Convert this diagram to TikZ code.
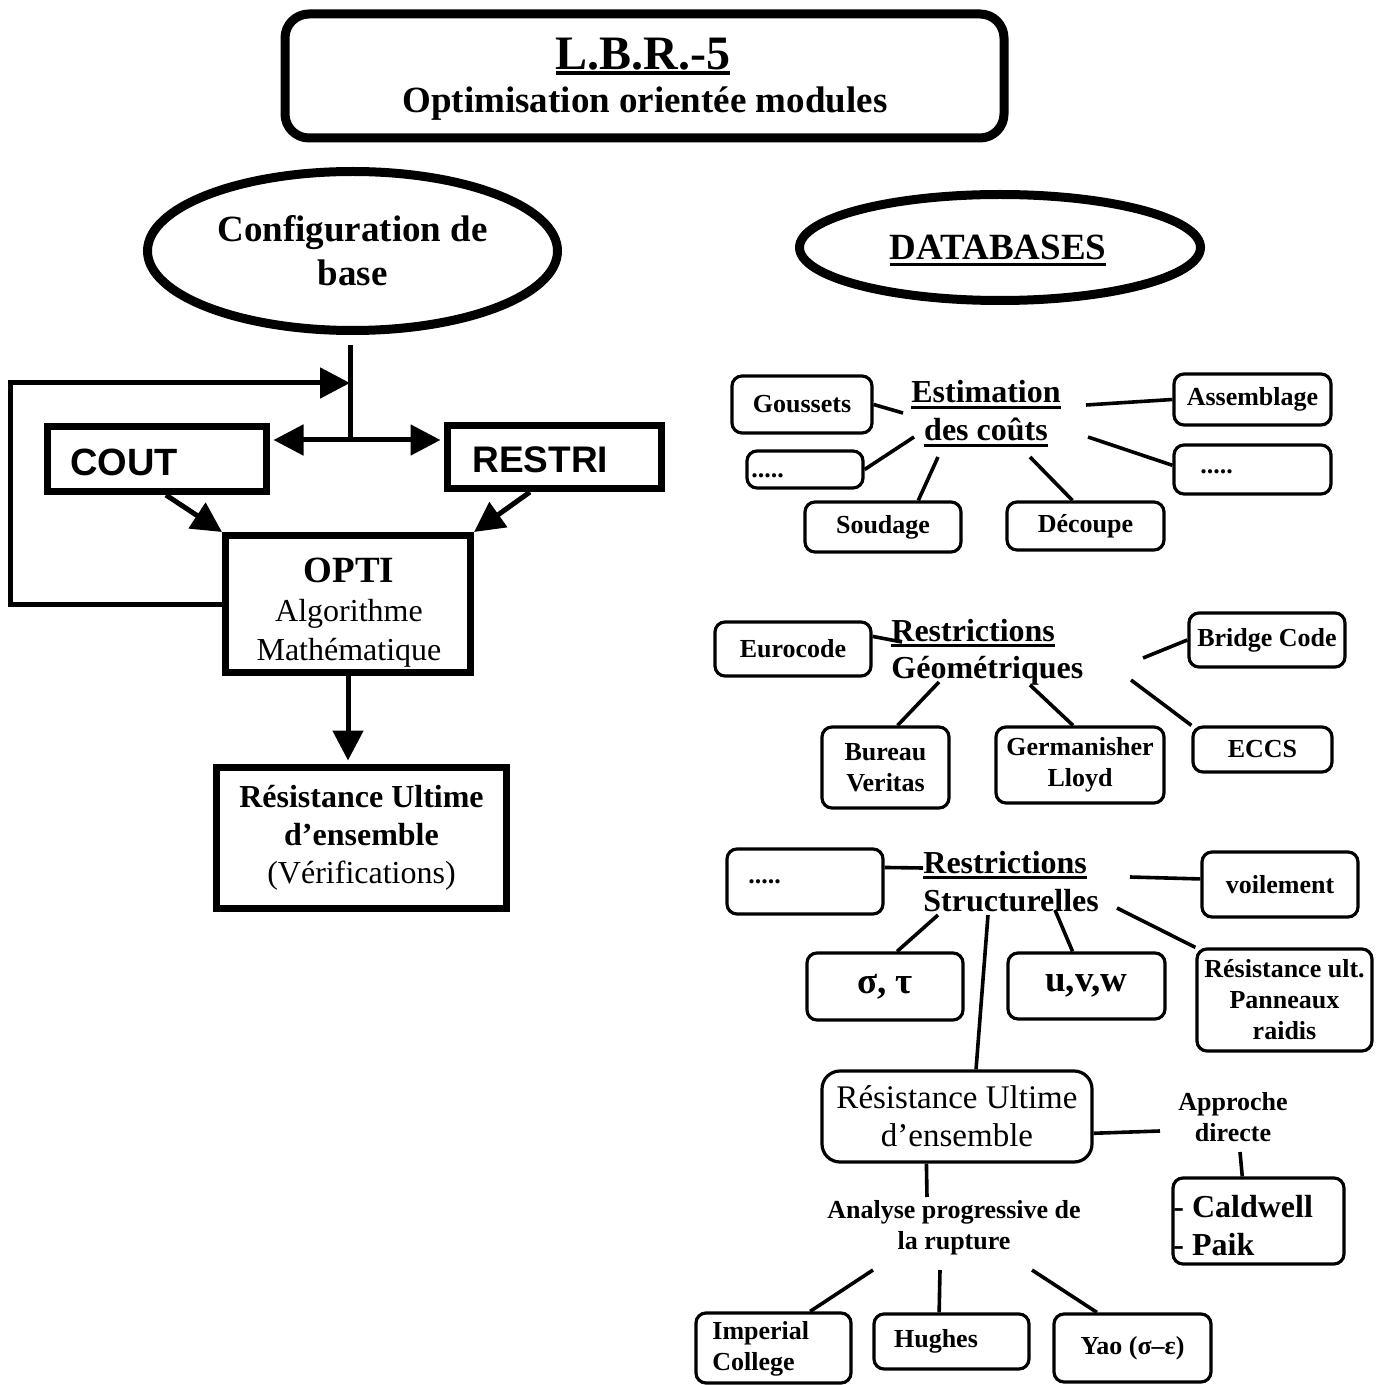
\documentclass[tikz,border=0pt]{standalone}
\usepackage{fontspec}
\setmainfont{Liberation Serif}
\setsansfont{Liberation Sans}
\usetikzlibrary{arrows.meta,shapes.geometric}
\newcommand\fsz[2]{\fontsize{#1}{#2}\selectfont}
\newcommand\ulx[3]{\leavevmode\setbox0=\hbox{#3}\rlap{\rule[-#1]{\wd0}{#2}}\box0}
\begin{document}
\begin{tikzpicture}[x=0.5pt,y=-0.5pt,
  every node/.style={inner sep=0pt},
  sqbox/.style={draw, line width=3.5pt, align=center},
  rbox/.style={draw, line width=1.6pt, rounded corners=5pt, align=center, font=\fsz{13}{15.5}\bfseries},
  oval/.style={draw, ellipse, line width=4.5pt, align=center, font=\fsz{18.5}{22}\bfseries},
  head/.style={font=\fsz{16}{19}\bfseries},
  small/.style={font=\fsz{13}{15.5}\bfseries},
  link/.style={line width=1.8pt},
  wire/.style={line width=2.5pt},
  flow/.style={line width=2.5pt, -{Triangle[length=15pt,width=15pt]}},
]
\useasboundingbox (0,0) rectangle (1387,1385);

% ---- title
\node[draw, line width=4.5pt, rounded corners=12pt, minimum width=359.5pt, minimum height=62pt] (title) at (644.5,76) {};
\node[anchor=base, font=\fsz{24}{26}\bfseries] (lbr) at (643,70) {\ulx{2.5pt}{1.8pt}{L.B.R.-5}};
\node[anchor=base, font=\fsz{18.5}{22}\bfseries] (optmod) at (645,113) {Optimisation orientée modules};

% ---- ellipses
\node[oval, minimum width=205pt, minimum height=79.5pt] (config) at (352.5,251) {Configuration de\\base};
\node[draw, ellipse, line width=4.5pt, minimum width=200.5pt, minimum height=53pt] (db) at (1000,247.5) {};
\node[anchor=base, font=\fsz{18.5}{22}\bfseries] (dbt) at (998,260) {\ulx{3pt}{1.5pt}{DATABASES}};

% ---- left flow
\node[sqbox, minimum width=109.5pt, minimum height=32.5pt] (cout) at (157,459) {};
\node[anchor=west, font=\fsz{19}{22}\sffamily\bfseries] (coutt) at (70,462) {COUT};
\node[sqbox, minimum width=107pt, minimum height=31.5pt] (restri) at (554.5,457) {};
\node[anchor=west, font=\fsz{18.5}{22}\sffamily\bfseries] (restrit) at (472,460) {RESTRI};
\node[sqbox, minimum width=122.5pt, minimum height=68.5pt] (opti) at (348,604) {};
\node[align=center, font=\fsz{16}{19.5}] (optit) at (349,613) {{\fsz{18.5}{19.5}\bfseries OPTI}\\Algorithme\\Mathématique};
\node[sqbox, minimum width=145pt, minimum height=70.5pt, font=\fsz{16}{19}] (resg) at (361.5,838) {{\bfseries Résistance Ultime}\\{\bfseries d’ensemble}\\(Vérifications)};

\coordinate (top) at (350,345);
\coordinate (jn) at (350,440);
\coordinate (lc) at (10,383);
\draw[wire] (top) -- (jn);
\draw[flow, shorten >=1.75pt] (jn) -- (cout.east |- jn);
\draw[flow, shorten >=1.75pt] (jn) -- (restri.west |- jn);
\draw[flow] (opti.west) -| (lc) -- (top |- lc);
\draw[flow] (cout.-76) -- (opti.north west);
\draw[flow] (restri.235) -- (opti.north east);
\draw[flow, shorten >=1.75pt] (opti.south) -- (opti.south |- resg.north);

% ---- estimation des couts
\node[head, anchor=base] (est1) at (986,403) {\ulx{3pt}{1.3pt}{Estimation}};
\node[head, anchor=base] (est2) at (986,441) {\ulx{3pt}{1.3pt}{des coûts}};
\node[rbox, minimum width=70pt, minimum height=28.5pt] (gous) at (802,404.5) {Goussets};
\node[rbox, minimum width=58pt, minimum height=18.5pt] (dotsa) at (805,469.5) {};
\node[small, anchor=west] (dotsat) at (751,476) {.....};
\node[rbox, minimum width=78pt, minimum height=25pt] (soud) at (883,527) {Soudage};
\node[rbox, minimum width=78.5pt, minimum height=24pt] (dec) at (1085.5,526) {Découpe};
\node[rbox, minimum width=78.5pt, minimum height=25.5pt] (asm) at (1252.5,399.5) {Assemblage};
\node[rbox, minimum width=78.5pt, minimum height=24.5pt] (dotsb) at (1252.5,469.5) {};
\node[small, anchor=west] (dotsbt) at (1200,472) {.....};
\coordinate (e1) at (903,413);
\coordinate (e2) at (914,437);
\coordinate (e3) at (938,457);
\coordinate (e4) at (1030,457);
\coordinate (e5) at (1086,405);
\coordinate (e6) at (1088,437);
\draw[link] (gous.east) -- (e1);
\draw[link] (dotsa.east) -- (e2);
\draw[link] (soud.37) -- (e3);
\draw[link] (dec.117) -- (e4);
\draw[link] (asm.west) -- (e5);
\draw[link] (dotsb.177) -- (e6);

% ---- restrictions geometriques
\node[head, anchor=base west] (geo1) at (891,641) {\ulx{3pt}{1.3pt}{Restrictions}};
\node[head, anchor=base west] (geo2) at (891,678) {Géométriques};
\node[rbox, minimum width=78pt, minimum height=27pt] (euro) at (793,649) {Eurocode};
\node[rbox, minimum width=78pt, minimum height=27pt] (bridge) at (1267,640) {Bridge Code};
\node[rbox, minimum width=63.5pt, minimum height=40.5pt] (bv) at (885.5,767.5) {Bureau\\Veritas};
\node[rbox, minimum width=84pt, minimum height=38pt] (gl) at (1080,765) {Germanisher\\Lloyd};
\node[rbox, minimum width=69.5pt, minimum height=22.5pt] (eccs) at (1262.5,749.5) {ECCS};
\coordinate (g1) at (902,642);
\coordinate (g2) at (1143,658);
\coordinate (g3) at (939,682);
\coordinate (g4) at (1030,685);
\coordinate (g5) at (1131,680);
\draw[link] (euro.9) -- (g1);
\draw[link] (bridge.west) -- (g2);
\draw[link] (bv.74) -- (g3);
\draw[link] (gl.100) -- (g4);
\draw[link] (eccs.north west) -- (g5);

% ---- restrictions structurelles
\node[head, anchor=base west] (st1) at (923,873) {\ulx{3pt}{1.3pt}{Restrictions}};
\node[head, anchor=base west] (st2) at (923,911) {Structurelles};
\node[rbox, minimum width=78pt, minimum height=32.5pt] (dotsc) at (805,881.5) {};
\node[small, anchor=west] (dotsct) at (748,882) {.....};
\node[rbox, minimum width=78pt, minimum height=32.5pt] (voil) at (1280,884.5) {voilement};
\node[rbox, minimum width=78pt, minimum height=33.5pt, font=\fsz{18.5}{22}\bfseries] (sig) at (885,986.5) {σ, τ};
\node[rbox, minimum width=78.5pt, minimum height=33pt, font=\fsz{18.5}{22}\bfseries] (uvw) at (1086.5,986) {u,v,w};
\node[rbox, minimum width=87.5pt, minimum height=51pt] (rult) at (1284.5,1000) {Résistance ult.\\Panneaux\\raidis};
\node[draw, line width=1.6pt, rounded corners=9pt, minimum width=135pt, minimum height=45.5pt, align=center, font=\fsz{16.5}{19}] (rue) at (957,1116.5) {Résistance Ultime\\d’ensemble};
\coordinate (s1) at (923,868);
\coordinate (s2) at (1130,877);
\coordinate (s3) at (938,915);
\coordinate (s4) at (1055,910);
\coordinate (s5) at (1117,908);
\coordinate (s6) at (988,915);
\draw[link] (dotsc.10) -- (s1);
\draw[link] (voil.176) -- (s2);
\draw[link] (sig.71) -- (s3);
\draw[link] (uvw.112) -- (s4);
\draw[link] (rult.north west) -- (s5);
\draw[link] (rue.68) -- (s6);

% ---- ultimate strength
\node[small, align=center] (appr) at (1233,1117) {Approche\\directe};
\node[rbox, minimum width=85.5pt, minimum height=43pt] (cald) at (1258.5,1221) {};
\node[anchor=west, align=left, font=\fsz{16}{19}\bfseries] (caldt) at (1173,1226) {- Caldwell\\- Paik};
\coordinate (a1) at (1160,1131);
\coordinate (a2) at (1240,1152);
\draw[link] (rue.-7) -- (a1);
\draw[link] (cald.110) -- (a2);

\node[small, align=center] (anal) at (954,1228) {Analyse progressive de\\la rupture};
\coordinate (r1) at (927,1197);
\draw[link] (rue.237) -- (r1);
\node[rbox, minimum width=77.5pt, minimum height=35pt] (imp) at (773.5,1348) {};
\node[small, anchor=west, align=left] (impt) at (712,1349) {Imperial\\College};
\node[rbox, minimum width=77.5pt, minimum height=27.5pt] (hug) at (951.5,1341.5) {};
\node[small] (hugt) at (936,1341) {Hughes};
\node[rbox, minimum width=78.5pt, minimum height=34pt] (yao) at (1132.5,1348) {Yao (σ–ε)};
\coordinate (b1) at (873,1270);
\coordinate (b2) at (940,1270);
\coordinate (b3) at (1032,1270);
\draw[link] (imp.45) -- (b1);
\draw[link] (hug.113) -- (b2);
\draw[link] (yao.135) -- (b3);
\end{tikzpicture}
\end{document}
